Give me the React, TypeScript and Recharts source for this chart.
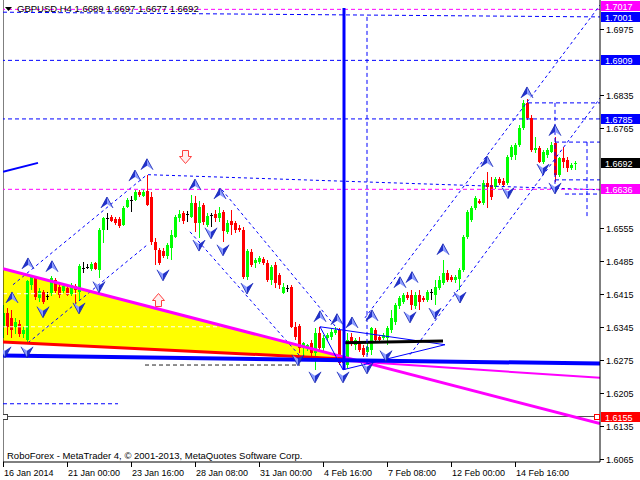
import React from 'react';
import { ComposedChart, Bar, Area, Scatter, XAxis, YAxis, ReferenceLine } from 'recharts';

// ---- candle data (GBPUSD H4) ----
const opens = [
  1.6345,1.6374,1.6364,1.6345,1.6351,1.6330,1.6317,1.6434,1.6448,1.6406,
  1.6419,1.6411,1.6417,1.6444,1.6429,1.6421,1.6427,1.6415,1.6432,1.6419,
  1.6470,1.6472,1.6468,1.6480,1.6466,1.6550,1.6576,1.6578,1.6573,1.6573,
  1.6561,1.6599,1.6614,1.6614,1.6631,1.6622,1.6633,1.6620,1.6525,1.6508,
  1.6506,1.6495,1.6512,1.6535,1.6576,1.6586,1.6584,1.6578,1.6607,1.6565,
  1.6603,1.6561,1.6582,1.6584,1.6576,1.6588,1.6546,1.6569,1.6565,1.6554,
  1.6550,1.6451,1.6504,1.6480,1.6482,1.6489,1.6480,1.6444,1.6476,1.6455,
  1.6417,1.6427,1.6429,1.6345,1.6347,1.6300,1.6300,1.6311,1.6290,1.6332,
  1.6300,1.6322,1.6324,1.6332,1.6339,1.6281,1.6264,1.6324,1.6307,1.6311,
  1.6300,1.6292,1.6296,1.6339,1.6324,1.6322,1.6322,1.6339,1.6355,1.6389,
  1.6398,1.6413,1.6413,1.6389,1.6413,1.6406,1.6402,1.6419,1.6413,1.6427,
  1.6438,1.6459,1.6451,1.6444,1.6448,1.6466,1.6535,1.6571,1.6597,1.6611,
  1.6607,1.6650,1.6646,1.6641,1.6658,1.6654,1.6650,1.6705,1.6709,1.6730,
  1.6766,1.6819,1.6787,1.6719,1.6724,1.6694,1.6709,1.6715,1.6734,1.6667,
  1.6703,1.6698,1.6681,1.6689,
];
const highs = [
  1.6391,1.6385,1.6381,1.6364,1.6360,1.6345,1.6444,1.6455,1.6453,1.6427,
  1.6423,1.6419,1.6453,1.6448,1.6438,1.6436,1.6432,1.6438,1.6436,1.6478,
  1.6482,1.6478,1.6482,1.6482,1.6554,1.6578,1.6585,1.6582,1.6578,1.6578,
  1.6601,1.6618,1.6622,1.6635,1.6635,1.6635,1.6667,1.6631,1.6533,1.6512,
  1.6512,1.6523,1.6550,1.6582,1.6592,1.6590,1.6590,1.6624,1.6622,1.6612,
  1.6607,1.6586,1.6586,1.6592,1.6599,1.6592,1.6571,1.6592,1.6569,1.6561,
  1.6556,1.6510,1.6510,1.6491,1.6495,1.6493,1.6487,1.6476,1.6482,1.6459,
  1.6438,1.6434,1.6434,1.6355,1.6351,1.6313,1.6309,1.6317,1.6343,1.6345,
  1.6328,1.6332,1.6343,1.6345,1.6343,1.6292,1.6332,1.6332,1.6322,1.6324,
  1.6307,1.6313,1.6345,1.6343,1.6328,1.6332,1.6347,1.6381,1.6396,1.6411,
  1.6417,1.6419,1.6423,1.6419,1.6423,1.6411,1.6423,1.6425,1.6444,1.6453,
  1.6487,1.6466,1.6455,1.6455,1.6470,1.6540,1.6592,1.6601,1.6622,1.6616,
  1.6656,1.6673,1.6662,1.6662,1.6662,1.6660,1.6709,1.6730,1.6734,1.6772,
  1.6825,1.6827,1.6793,1.6747,1.6728,1.6719,1.6724,1.6736,1.6747,1.6705,
  1.6726,1.6705,1.6692,1.6697,
];
const lows = [
  1.6322,1.6328,1.6322,1.6330,1.6324,1.6322,1.6311,1.6423,1.6402,1.6398,
  1.6394,1.6402,1.6411,1.6417,1.6406,1.6417,1.6411,1.6411,1.6396,1.6402,
  1.6459,1.6468,1.6463,1.6466,1.6448,1.6523,1.6550,1.6567,1.6561,1.6554,
  1.6559,1.6597,1.6588,1.6611,1.6620,1.6620,1.6601,1.6518,1.6476,1.6476,
  1.6491,1.6489,1.6487,1.6533,1.6567,1.6563,1.6567,1.6576,1.6546,1.6533,
  1.6561,1.6556,1.6556,1.6567,1.6567,1.6525,1.6542,1.6540,1.6544,1.6546,
  1.6446,1.6444,1.6472,1.6470,1.6478,1.6476,1.6440,1.6434,1.6427,1.6425,
  1.6415,1.6419,1.6343,1.6317,1.6290,1.6281,1.6294,1.6281,1.6254,1.6296,
  1.6292,1.6315,1.6317,1.6328,1.6264,1.6258,1.6258,1.6305,1.6296,1.6292,
  1.6281,1.6286,1.6286,1.6313,1.6311,1.6317,1.6307,1.6332,1.6349,1.6383,
  1.6394,1.6402,1.6381,1.6383,1.6381,1.6398,1.6398,1.6402,1.6391,1.6423,
  1.6434,1.6440,1.6440,1.6438,1.6423,1.6461,1.6531,1.6567,1.6592,1.6605,
  1.6603,1.6597,1.6614,1.6637,1.6646,1.6641,1.6646,1.6699,1.6699,1.6726,
  1.6762,1.6783,1.6715,1.6713,1.6692,1.6690,1.6703,1.6713,1.6652,1.6662,
  1.6681,1.6673,1.6677,1.6677,
];
const closes = [
  1.6374,1.6345,1.6339,1.6355,1.6330,1.6339,1.6442,1.6451,1.6408,1.6421,
  1.6398,1.6411,1.6448,1.6421,1.6413,1.6432,1.6413,1.6434,1.6423,1.6474,
  1.6470,1.6472,1.6478,1.6468,1.6550,1.6576,1.6576,1.6569,1.6565,1.6559,
  1.6597,1.6614,1.6614,1.6631,1.6624,1.6631,1.6603,1.6525,1.6508,1.6480,
  1.6495,1.6518,1.6540,1.6578,1.6584,1.6569,1.6584,1.6607,1.6565,1.6599,
  1.6567,1.6580,1.6582,1.6576,1.6586,1.6548,1.6565,1.6561,1.6550,1.6550,
  1.6451,1.6506,1.6476,1.6487,1.6491,1.6480,1.6444,1.6472,1.6438,1.6434,
  1.6429,1.6427,1.6345,1.6324,1.6300,1.6311,1.6307,1.6290,1.6332,1.6300,
  1.6322,1.6328,1.6334,1.6339,1.6269,1.6269,1.6317,1.6311,1.6317,1.6296,
  1.6286,1.6303,1.6343,1.6317,1.6317,1.6328,1.6343,1.6364,1.6391,1.6406,
  1.6413,1.6406,1.6391,1.6413,1.6398,1.6402,1.6419,1.6419,1.6429,1.6444,
  1.6459,1.6444,1.6444,1.6451,1.6466,1.6535,1.6588,1.6597,1.6618,1.6607,
  1.6650,1.6641,1.6620,1.6658,1.6650,1.6646,1.6705,1.6726,1.6730,1.6766,
  1.6819,1.6787,1.6719,1.6724,1.6694,1.6715,1.6719,1.6730,1.6667,1.6703,
  1.6694,1.6681,1.6688,1.6692,
];

// ---- axes ----
const timeTickBars = [0, 16, 32, 48, 64, 80, 96, 112, 128];
const timeTickLabels = ['16 Jan 2014', '21 Jan 00:00', '23 Jan 16:00', '28 Jan 08:00', '31 Jan 00:00', '4 Feb 16:00', '7 Feb 08:00', '12 Feb 00:00', '14 Feb 16:00'];
const priceTicks = [1.6065, 1.6135, 1.6205, 1.6275, 1.6345, 1.6415, 1.6485, 1.6555, 1.6765, 1.6835, 1.6975];
const tagValues = [1.7017, 1.7001, 1.6909, 1.6785, 1.6692, 1.6636, 1.6155];
const title = 'GBPUSD,H4 1.6689 1.6697 1.6677 1.6692';
const footer = 'RoboForex - MetaTrader 4, \u00A9 2001-2013, MetaQuotes Software Corp.';

// ---- drawing objects (bar index, price) ----
const triangle = [
  { i: 0, band: [1.6313, 1.6468] },
  { i: 85.5, band: [1.6280, 1.6280] },
];
const triUpperEdge = [[0, 1.6468], [149.25, 1.6140]];
const triLowerEdge = [[0, 1.6313], [85.5, 1.6277]];
const shallowMagenta = [[85.5, 1.6273], [149.25, 1.6237]];
const blueSupport = [[0, 1.6284], [149.25, 1.6267]];
const topTrend = [[0, 1.7011], [149.25, 1.7001]];
const shortBlue = [[0, 1.6673], [8.75, 1.6692]];
const lowDash = [[0, 1.6182], [28.75, 1.6182]];
const whiteDash1 = [[0, 1.6415], [18.5, 1.6415]];
const whiteDash2 = [[0, 1.6345], [60.5, 1.6345]];
const darkDash = [[35.5, 1.6264], [74.25, 1.6264]];
const dottedLines = [
  [[2.5, 1.6434], [36, 1.6667]],
  [[6.25, 1.6311], [36, 1.6518]],
  [[36.25, 1.6667], [149.25, 1.6635]],
  [[54.75, 1.6635], [84.25, 1.6334]],
  [[46.75, 1.6546], [75.5, 1.6271]],
  [[90.5, 1.6364], [149.25, 1.7026]],
  [[101.75, 1.6286], [149.25, 1.6829]],
];
const boxDashes = [
  [[131.25, 1.6819], [149.25, 1.6819]],
  [[138, 1.6736], [149.25, 1.6736]],
  [[138, 1.6656], [149.25, 1.6656]],
  [[140.5, 1.6626], [149.25, 1.6626]],
  [[138, 1.6819], [138, 1.6635]],
  [[146, 1.6736], [146, 1.6576]],
];
const blackBar = [[85, 1.6311], [110, 1.6315]];
const blueTriangle = [
  [[79.25, 1.6345], [85, 1.6254]],
  [[79.25, 1.6345], [110.5, 1.6307]],
  [[85, 1.6254], [110.5, 1.6307]],
];
const eventLine = [[85.25, 1.7020], [85.25, 1.6254]];
const eventDash = [[91, 1.7001], [91, 1.6254]];
const levelMagentaTop = 1.7017;
const levelBlue1 = 1.6909;
const levelBlue2 = 1.6785;
const levelMagenta = 1.6636;
const levelStop = 1.6155;
const stopMarkers = [{ i: 0.5, p: 1.6155 }, { i: 148.5, p: 1.6155 }];

const upFractals = [
  { i: 2.25, p: 1.6406 }, { i: 6.25, p: 1.6478 }, { i: 12.25, p: 1.6472 }, { i: 26, p: 1.6607 },
  { i: 33, p: 1.6664 }, { i: 36, p: 1.6688 }, { i: 48, p: 1.6645 }, { i: 54.25, p: 1.6626 },
  { i: 79.25, p: 1.6366 }, { i: 83.5, p: 1.6360 }, { i: 87.25, p: 1.6353 }, { i: 92.25, p: 1.6368 },
  { i: 99.25, p: 1.6438 }, { i: 102.25, p: 1.6449 }, { i: 110, p: 1.6508 }, { i: 121, p: 1.6694 },
  { i: 131, p: 1.6840 }, { i: 138, p: 1.6760 },
];
const downFractals = [
  { i: 0.5, p: 1.6292 }, { i: 6, p: 1.6292 }, { i: 10, p: 1.6377 }, { i: 19, p: 1.6385 },
  { i: 24, p: 1.6430 }, { i: 40, p: 1.6455 }, { i: 49, p: 1.6518 }, { i: 52, p: 1.6544 },
  { i: 55, p: 1.6508 }, { i: 61, p: 1.6427 }, { i: 73.75, p: 1.6275 }, { i: 78, p: 1.6239 },
  { i: 85, p: 1.6239 }, { i: 91, p: 1.6258 }, { i: 95.75, p: 1.6284 }, { i: 101.75, p: 1.6366 },
  { i: 108, p: 1.6374 }, { i: 114.25, p: 1.6408 }, { i: 126.25, p: 1.6629 }, { i: 135, p: 1.6679 },
  { i: 138, p: 1.6639 },
];
const redUpSignal = [{ i: 38.75, p: 1.6402 }];
const redDownSignal = [{ i: 45.5, p: 1.6705 }];

// ---- styles ----
const FONT = "'Liberation Sans', Arial, sans-serif";
const tagColors = ['#ff00ff', '#0000ff', '#0000ff', '#0000ff', '#000000', '#ff00ff', '#ff0000'];
const tagNudge = [-3, 0, 0, 0, 0, 0, 0];
const BLUE = '#0000ff';

const candleData = opens.map((o, i) => ({ i, o, h: highs[i], l: lows[i], c: closes[i] }));

function CandleShape(props: any) {
  const { x, y, width, height, payload } = props;
  if (!payload) return null;
  const { o, h, l, c } = payload;
  const top = Math.min(y, y + height);
  const span = Math.abs(height);
  const py = (v: number) => top + ((h - v) / (h - l)) * span;
  const cx = Math.round(x + width / 2);
  const color = c > o ? '#00ff00' : c < o ? '#ff0000' : '#000000';
  const yo = py(o);
  const yc = py(c);
  const bTop = Math.round(Math.min(yo, yc));
  const bH = Math.max(1, Math.round(Math.abs(yo - yc)));
  return (
    <g>
      <rect x={cx} y={Math.round(top)} width={1} height={Math.max(1, Math.round(span))} fill={color} />
      <rect x={cx - 1} y={bTop} width={3} height={bH} fill={color} />
    </g>
  );
}

function UpArrow(props: any) {
  const { cx, cy } = props;
  if (cx == null) return null;
  return (
    <g transform={`translate(${cx},${cy})`}>
      <polygon points="0,-6 -6,5 0,1" fill="#2233cc" />
      <polygon points="0,-6 6,5 0,1" fill="#8c9cff" />
      <polyline points="-6,5 0,-6 6,5" fill="none" stroke="#1020b0" strokeWidth={0.8} />
    </g>
  );
}

function DownArrow(props: any) {
  const { cx, cy } = props;
  if (cx == null) return null;
  return (
    <g transform={`translate(${cx},${cy})`}>
      <polygon points="0,6 -6,-5 0,-1" fill="#8c9cff" />
      <polygon points="0,6 6,-5 0,-1" fill="#2233cc" />
      <polyline points="-6,-5 0,6 6,-5" fill="none" stroke="#1020b0" strokeWidth={0.8} />
    </g>
  );
}

function RedUp(props: any) {
  const { cx, cy } = props;
  if (cx == null) return null;
  return (
    <g transform={`translate(${Math.round(cx)},${Math.round(cy)})`}>
      <polygon points="0.5,-6.5 6.5,0.5 3.5,0.5 3.5,6.5 -2.5,6.5 -2.5,0.5 -5.5,0.5" fill="#fff0f0" stroke="#ff4040" strokeWidth={1} />
    </g>
  );
}

function RedDown(props: any) {
  const { cx, cy } = props;
  if (cx == null) return null;
  return (
    <g transform={`translate(${Math.round(cx)},${Math.round(cy)})`}>
      <polygon points="0.5,6.5 6.5,-0.5 3.5,-0.5 3.5,-6.5 -2.5,-6.5 -2.5,-0.5 -5.5,-0.5" fill="#fff0f0" stroke="#ff4040" strokeWidth={1} />
    </g>
  );
}

function StopMarker(props: any) {
  const { cx, cy, index } = props;
  if (cx == null) return null;
  return <rect x={Math.round(cx) - 2.5} y={Math.round(cy) - 2.5} width={5} height={5} fill="#ffffff" stroke={index === 0 ? '#404040' : '#ff0000'} strokeWidth={1} />;
}

function TimeTick(props: any) {
  const { x, payload } = props;
  const idx = timeTickBars.indexOf(payload.value);
  return (
    <g>
      <line x1={Math.round(x) + 0.5} x2={Math.round(x) + 0.5} y1={462} y2={467} stroke="#000" />
      <text x={Math.round(x) + 1} y={476} fontSize={9} fontFamily={FONT} fill="#000" textAnchor="start">
        {idx >= 0 ? timeTickLabels[idx] : ''}
      </text>
    </g>
  );
}

function PriceTick(props: any) {
  const { y, payload } = props;
  const v = payload.value;
  const tagIdx = tagValues.findIndex((t) => Math.abs(t - v) < 1e-7);
  const yy = Math.round(y);
  if (tagIdx >= 0) {
    const ty = yy + tagNudge[tagIdx];
    return (
      <g>
        <rect x={601} y={ty - 5} width={39} height={10} fill={tagColors[tagIdx]} />
        <text x={605} y={ty + 3.5} fontSize={9} fontFamily={FONT} fill="#ffffff" textAnchor="start">
          {v.toFixed(4)}
        </text>
      </g>
    );
  }
  return (
    <g>
      <line x1={600} x2={604} y1={yy + 0.5} y2={yy + 0.5} stroke="#000" />
      <text x={606} y={yy + 3.5} fontSize={9} fontFamily={FONT} fill="#000" textAnchor="start">
        {v.toFixed(4)}
      </text>
    </g>
  );
}

const seg = (a: number[][]) => [
  { x: a[0][0], y: a[0][1] },
  { x: a[1][0], y: a[1][1] },
];

export default function App() {
  return (
    <div style={{ position: 'absolute', left: 0, top: 0, width: 640, height: 480, background: '#ffffff' }}>
      <ComposedChart
        width={640}
        height={480}
        data={candleData}
        margin={{ top: 0, right: 0, left: 3, bottom: 0 }}
      >
        <XAxis
          dataKey="i"
          type="number"
          domain={[0, 149.25]}
          allowDataOverflow
          ticks={timeTickBars}
          interval={0}
          height={18}
          axisLine={{ stroke: '#000' }}
          tickLine={false}
          tick={<TimeTick />}
        />
        <YAxis
          orientation="right"
          type="number"
          domain={[1.60587, 1.70368]}
          allowDataOverflow
          ticks={[...priceTicks, ...tagValues]}
          interval={0}
          width={40}
          axisLine={{ stroke: '#000' }}
          tickLine={false}
          tick={<PriceTick />}
        />
        <Area
          data={triangle}
          dataKey="band"
          type="linear"
          fill="#ffff00"
          fillOpacity={1}
          stroke="none"
          isAnimationActive={false}
        />
        <ReferenceLine segment={seg(whiteDash1)} stroke="#ffffff" strokeDasharray="4 3" ifOverflow="hidden" />
        <ReferenceLine segment={seg(whiteDash2)} stroke="#ffffff" strokeDasharray="4 3" ifOverflow="hidden" />
        <ReferenceLine x={0} stroke="#000" ifOverflow="hidden" />
        <ReferenceLine y={levelMagentaTop} stroke="#ff00ff" strokeDasharray="4 3" ifOverflow="hidden" />
        <ReferenceLine segment={seg(topTrend)} stroke={BLUE} strokeDasharray="4 3" ifOverflow="hidden" />
        <ReferenceLine y={levelBlue1} stroke={BLUE} strokeDasharray="4 3" ifOverflow="hidden" />
        <ReferenceLine y={levelBlue2} stroke={BLUE} strokeDasharray="4 3" ifOverflow="hidden" />
        <ReferenceLine y={levelStop} stroke="#505050" ifOverflow="hidden" />
        <ReferenceLine segment={seg(lowDash)} stroke={BLUE} strokeDasharray="4 3" ifOverflow="hidden" />
        <ReferenceLine segment={seg(darkDash)} stroke="#202020" strokeDasharray="4 3" ifOverflow="hidden" />
        {dottedLines.map((l, k) => (
          <ReferenceLine key={'d' + k} segment={seg(l)} stroke={BLUE} strokeDasharray="3 3" ifOverflow="hidden" />
        ))}
        {boxDashes.map((l, k) => (
          <ReferenceLine key={'b' + k} segment={seg(l)} stroke={BLUE} strokeDasharray="4 3" ifOverflow="hidden" />
        ))}
        <Bar dataKey={(d: any) => [d.l, d.h]} barSize={3} shape={<CandleShape />} isAnimationActive={false} />
        <ReferenceLine y={levelMagenta} stroke="#ff00ff" strokeDasharray="4 3" ifOverflow="hidden" />
        <ReferenceLine segment={seg(triUpperEdge)} stroke="#ff00ff" strokeWidth={3} ifOverflow="hidden" />
        <ReferenceLine segment={seg(triLowerEdge)} stroke="#ff0000" strokeWidth={3} ifOverflow="hidden" />
        <ReferenceLine segment={seg(shallowMagenta)} stroke="#ff00ff" strokeWidth={2} ifOverflow="hidden" />
        <ReferenceLine segment={seg(blueSupport)} stroke={BLUE} strokeWidth={4} ifOverflow="hidden" />
        <ReferenceLine segment={seg(shortBlue)} stroke={BLUE} strokeWidth={2} ifOverflow="hidden" />
        {blueTriangle.map((l, k) => (
          <ReferenceLine key={'t' + k} segment={seg(l)} stroke={BLUE} strokeWidth={1} ifOverflow="hidden" />
        ))}
        <ReferenceLine segment={seg(blackBar)} stroke="#000000" strokeWidth={3} ifOverflow="hidden" />
        <ReferenceLine segment={seg(eventLine)} stroke={BLUE} strokeWidth={3} ifOverflow="hidden" />
        <ReferenceLine segment={seg(eventDash)} stroke={BLUE} strokeDasharray="4 3" ifOverflow="hidden" />
        <Scatter data={upFractals} dataKey="p" shape={<UpArrow />} isAnimationActive={false} />
        <Scatter data={downFractals} dataKey="p" shape={<DownArrow />} isAnimationActive={false} />
        <Scatter data={redUpSignal} dataKey="p" shape={<RedUp />} isAnimationActive={false} />
        <Scatter data={redDownSignal} dataKey="p" shape={<RedDown />} isAnimationActive={false} />
        <Scatter data={stopMarkers} dataKey="p" shape={<StopMarker />} isAnimationActive={false} />
      </ComposedChart>
      <svg width={640} height={480} style={{ position: 'absolute', left: 0, top: 0, pointerEvents: 'none' }}>
        <polygon points="5,7 12,7 8.5,11" fill="#000" />
        <text x={17} y={12} fontSize={9.5} fontFamily={FONT} fill="#000">{title}</text>
        <text x={7} y={459} fontSize={9.5} fontFamily={FONT} fill="#000">{footer}</text>
      </svg>
    </div>
  );
}
